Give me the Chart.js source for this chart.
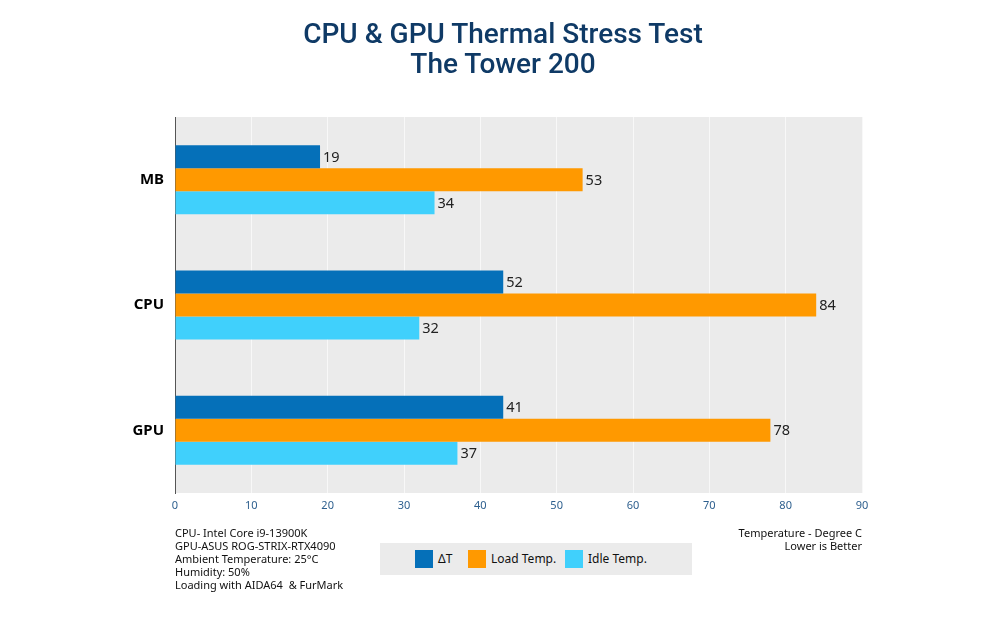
<!DOCTYPE html>
<html>
<head>
<meta charset="utf-8">
<script src="https://cdn.jsdelivr.net/npm/chart.js@4/dist/chart.umd.min.js"></script>
<style>
  html, body { margin: 0; padding: 0; background: #fff; }
  #wrap { position: relative; width: 1000px; height: 628px; }
  #chart { position: absolute; left: 0; top: 0; }
  .title { position: absolute; left: 0; width: 1006px; text-align: center; font-family: Roboto, sans-serif; font-weight: 500; font-size: 28px; color: #0f3a66; line-height: 30px; }
  .note { position: absolute; font-family: "Noto Sans", sans-serif; font-size: 11px; line-height: 13px; color: #111; }
  #legend { position: absolute; left: 380px; top: 543px; width: 312px; height: 32px; background: #ebebeb; font-family: "Noto Sans", sans-serif; font-size: 12px; color: #111; }
  .lg { position: absolute; top: 7px; height: 18px; line-height: 18px; }
  .sw { display: inline-block; width: 18px; height: 18px; vertical-align: top; margin-right: 5px; }
</style>
</head>
<body>
<div id="wrap">
  <canvas id="chart" width="1000" height="628"></canvas>
  <div class="title" style="top:19px">CPU &amp; GPU Thermal Stress Test</div>
  <div class="title" style="top:49px">The Tower 200</div>
  <div class="note" style="left:175px; top:526px">CPU- Intel Core i9-13900K<br>GPU-ASUS ROG-STRIX-RTX4090<br>Ambient Temperature: 25°C<br>Humidity: 50%<br>Loading with AIDA64 &nbsp;&amp; FurMark</div>
  <div class="note" style="right:138px; top:526px; text-align:right">Temperature - Degree C<br>Lower is Better</div>
  <div id="legend"></div>
</div>
<script>
// categories and series
const categories = ['MB', 'CPU', 'GPU'];
const seriesNames = ['ΔT', 'Load Temp.', 'Idle Temp.'];
const seriesColors = ['#0570b9', '#ff9900', '#40d0fc'];

// bar lengths as drawn in the picture
const deltaT = [19, 43, 43];
const loadTemp = [53.4, 84, 78];
const idleTemp = [34, 32, 37];

// printed value labels
const deltaTLabels = ['19', '52', '41'];
const loadTempLabels = ['53', '84', '78'];
const idleTempLabels = ['34', '32', '37'];

const xTicks = [0, 10, 20, 30, 40, 50, 60, 70, 80, 90];

const seriesValues = [deltaT, loadTemp, idleTemp];
const seriesLabels = [deltaTLabels, loadTempLabels, idleTempLabels];

// legend
const legendEl = document.getElementById('legend');
const legendX = [35, 88, 185];
seriesNames.forEach((name, i) => {
    const d = document.createElement('div');
    d.className = 'lg';
    d.style.left = legendX[i] + 'px';
    d.innerHTML = '<span class="sw" style="background:' + seriesColors[i] + '"></span>' + name;
    legendEl.appendChild(d);
});

const plotBg = {
    id: 'plotBg',
    beforeDraw(chart) {
        const { ctx, chartArea: a } = chart;
        ctx.save();
        ctx.fillStyle = '#ebebeb';
        ctx.fillRect(a.left, a.top, a.right - a.left, a.bottom - a.top);
        ctx.restore();
    }
};

const valueLabels = {
    id: 'valueLabels',
    afterDatasetsDraw(chart) {
        const { ctx } = chart;
        ctx.save();
        ctx.font = '14.5px "Noto Sans", sans-serif';
        ctx.fillStyle = '#222';
        ctx.textAlign = 'left';
        ctx.textBaseline = 'middle';
        chart.data.datasets.forEach((ds, di) => {
            chart.getDatasetMeta(di).data.forEach((bar, i) => {
                ctx.fillText(seriesLabels[di][i], bar.x + 3, bar.y + 1);
            });
        });
        ctx.restore();
    }
};

new Chart(document.getElementById('chart'), {
    type: 'bar',
    data: {
        labels: categories,
        datasets: seriesNames.map((name, i) => ({
            label: name,
            data: seriesValues[i],
            backgroundColor: seriesColors[i],
            borderWidth: 0,
            barPercentage: 1.0,
            categoryPercentage: 0.55,
        })),
    },
    options: {
        indexAxis: 'y',
        responsive: false,
        animation: false,
        layout: { padding: { left: 0, right: 138, top: 117, bottom: 105 } },
        plugins: { legend: { display: false }, tooltip: { enabled: false } },
        scales: {
            x: {
                min: 0, max: 90,
                afterBuildTicks: s => { s.ticks = xTicks.map(v => ({ value: v })); },
                afterFit: s => { s.height = 30; },
                grid: { color: '#f8f8f8', lineWidth: 1, drawTicks: false },
                border: { display: false },
                ticks: { color: '#2d5f8e', padding: 6, font: { family: 'Noto Sans', size: 11 } },
            },
            y: {
                afterFit: s => { s.width = 175; },
                grid: { display: false, drawTicks: false },
                border: { display: true, color: '#555', width: 1 },
                ticks: { color: '#000', padding: 11, font: { family: 'Noto Sans', size: 15, weight: 'bold' } },
            },
        },
    },
    plugins: [plotBg, valueLabels],
});
</script>
</body>
</html>
